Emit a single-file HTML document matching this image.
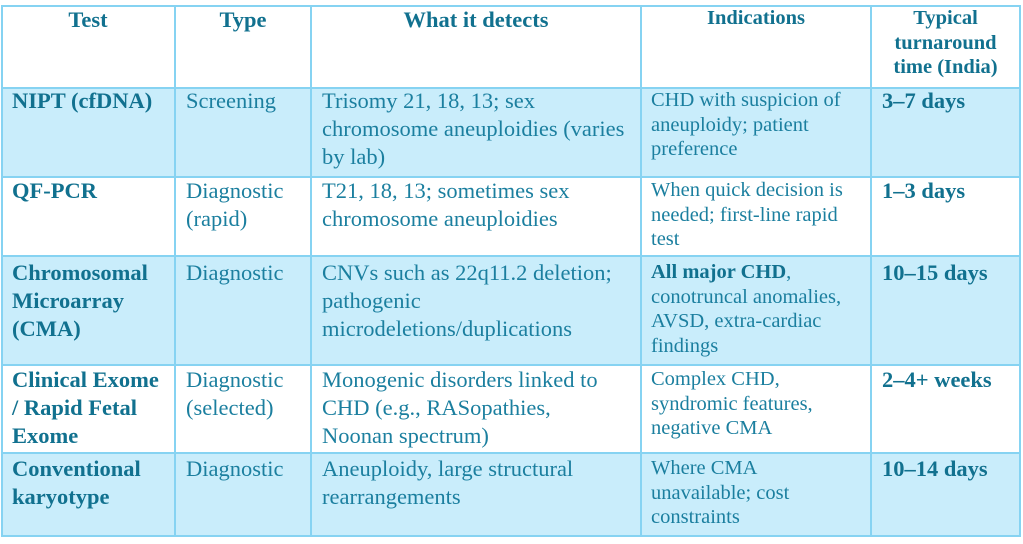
<!DOCTYPE html>
<html><head><meta charset="utf-8"><style>
body{margin:0;width:1023px;height:544px;background:#fff;position:relative;overflow:hidden;font-family:"Liberation Serif",serif;color:#1b7f9f}
.bg{position:absolute;background:#c9edfb}
.h{position:absolute;background:#86d3f2;height:2px}
.v{position:absolute;background:#86d3f2;width:2px;top:5px;height:532px}
.t{position:absolute;font-size:22.5px;line-height:28px;white-space:nowrap}
.s{position:absolute;font-size:20.5px;line-height:24.5px;white-space:nowrap}
.b{font-weight:bold;color:#11718f}
.c{text-align:center}
</style></head><body>
<div class="bg" style="left:1px;top:88px;width:1019px;height:88px"></div>
<div class="bg" style="left:1px;top:256px;width:1019px;height:109px"></div>
<div class="bg" style="left:1px;top:453px;width:1019px;height:83px"></div>
<div class="h" style="left:1px;width:1020px;top:5px"></div>
<div class="h" style="left:1px;width:1020px;top:87px"></div>
<div class="h" style="left:1px;width:1020px;top:176px"></div>
<div class="h" style="left:1px;width:1020px;top:255px"></div>
<div class="h" style="left:1px;width:1020px;top:364px"></div>
<div class="h" style="left:1px;width:1020px;top:452px"></div>
<div class="h" style="left:1px;width:1020px;top:535px"></div>
<div class="v" style="left:1px"></div>
<div class="v" style="left:174px"></div>
<div class="v" style="left:310px"></div>
<div class="v" style="left:640px"></div>
<div class="v" style="left:870px"></div>
<div class="v" style="left:1019px"></div>

<div class="t b c" style="left:2px;width:172px;top:6px">Test</div>
<div class="t b c" style="left:176px;width:134px;top:6px">Type</div>
<div class="t b c" style="left:312px;width:328px;top:6px">What it detects</div>
<div class="s b c" style="left:642px;width:228px;top:6px">Indications</div>
<div class="s b c" style="left:872px;width:147px;top:6px;white-space:normal">Typical<br>turnaround<br>time (India)</div>

<div class="t b" style="left:12px;top:87px">NIPT (cfDNA)</div>
<div class="t" style="left:186px;top:87px">Screening</div>
<div class="t" style="left:322px;top:87px">Trisomy 21, 18, 13; sex<br>chromosome aneuploidies (varies<br>by lab)</div>
<div class="s" style="left:651px;top:88px">CHD with suspicion of<br>aneuploidy; patient<br>preference</div>
<div class="t b" style="left:882px;top:87px">3–7 days</div>

<div class="t b" style="left:12px;top:177px">QF-PCR</div>
<div class="t" style="left:186px;top:177px">Diagnostic<br>(rapid)</div>
<div class="t" style="left:322px;top:177px">T21, 18, 13; sometimes sex<br>chromosome aneuploidies</div>
<div class="s" style="left:651px;top:178px">When quick decision is<br>needed; first-line rapid<br>test</div>
<div class="t b" style="left:882px;top:177px">1–3 days</div>

<div class="t b" style="left:12px;top:259px">Chromosomal<br>Microarray<br>(CMA)</div>
<div class="t" style="left:186px;top:259px">Diagnostic</div>
<div class="t" style="left:322px;top:259px">CNVs such as 22q11.2 deletion;<br>pathogenic<br>microdeletions/duplications</div>
<div class="s" style="left:651px;top:260px"><b class="b">All major CHD</b>,<br>conotruncal anomalies,<br>AVSD, extra-cardiac<br>findings</div>
<div class="t b" style="left:882px;top:259px">10–15 days</div>

<div class="t b" style="left:12px;top:366px">Clinical Exome<br>/ Rapid Fetal<br>Exome</div>
<div class="t" style="left:186px;top:366px">Diagnostic<br>(selected)</div>
<div class="t" style="left:322px;top:366px">Monogenic disorders linked to<br>CHD (e.g., RASopathies,<br>Noonan spectrum)</div>
<div class="s" style="left:651px;top:367px">Complex CHD,<br>syndromic features,<br>negative CMA</div>
<div class="t b" style="left:882px;top:366px">2–4+ weeks</div>

<div class="t b" style="left:12px;top:455px">Conventional<br>karyotype</div>
<div class="t" style="left:186px;top:455px">Diagnostic</div>
<div class="t" style="left:322px;top:455px">Aneuploidy, large structural<br>rearrangements</div>
<div class="s" style="left:651px;top:456px">Where CMA<br>unavailable; cost<br>constraints</div>
<div class="t b" style="left:882px;top:455px">10–14 days</div>
</body></html>
